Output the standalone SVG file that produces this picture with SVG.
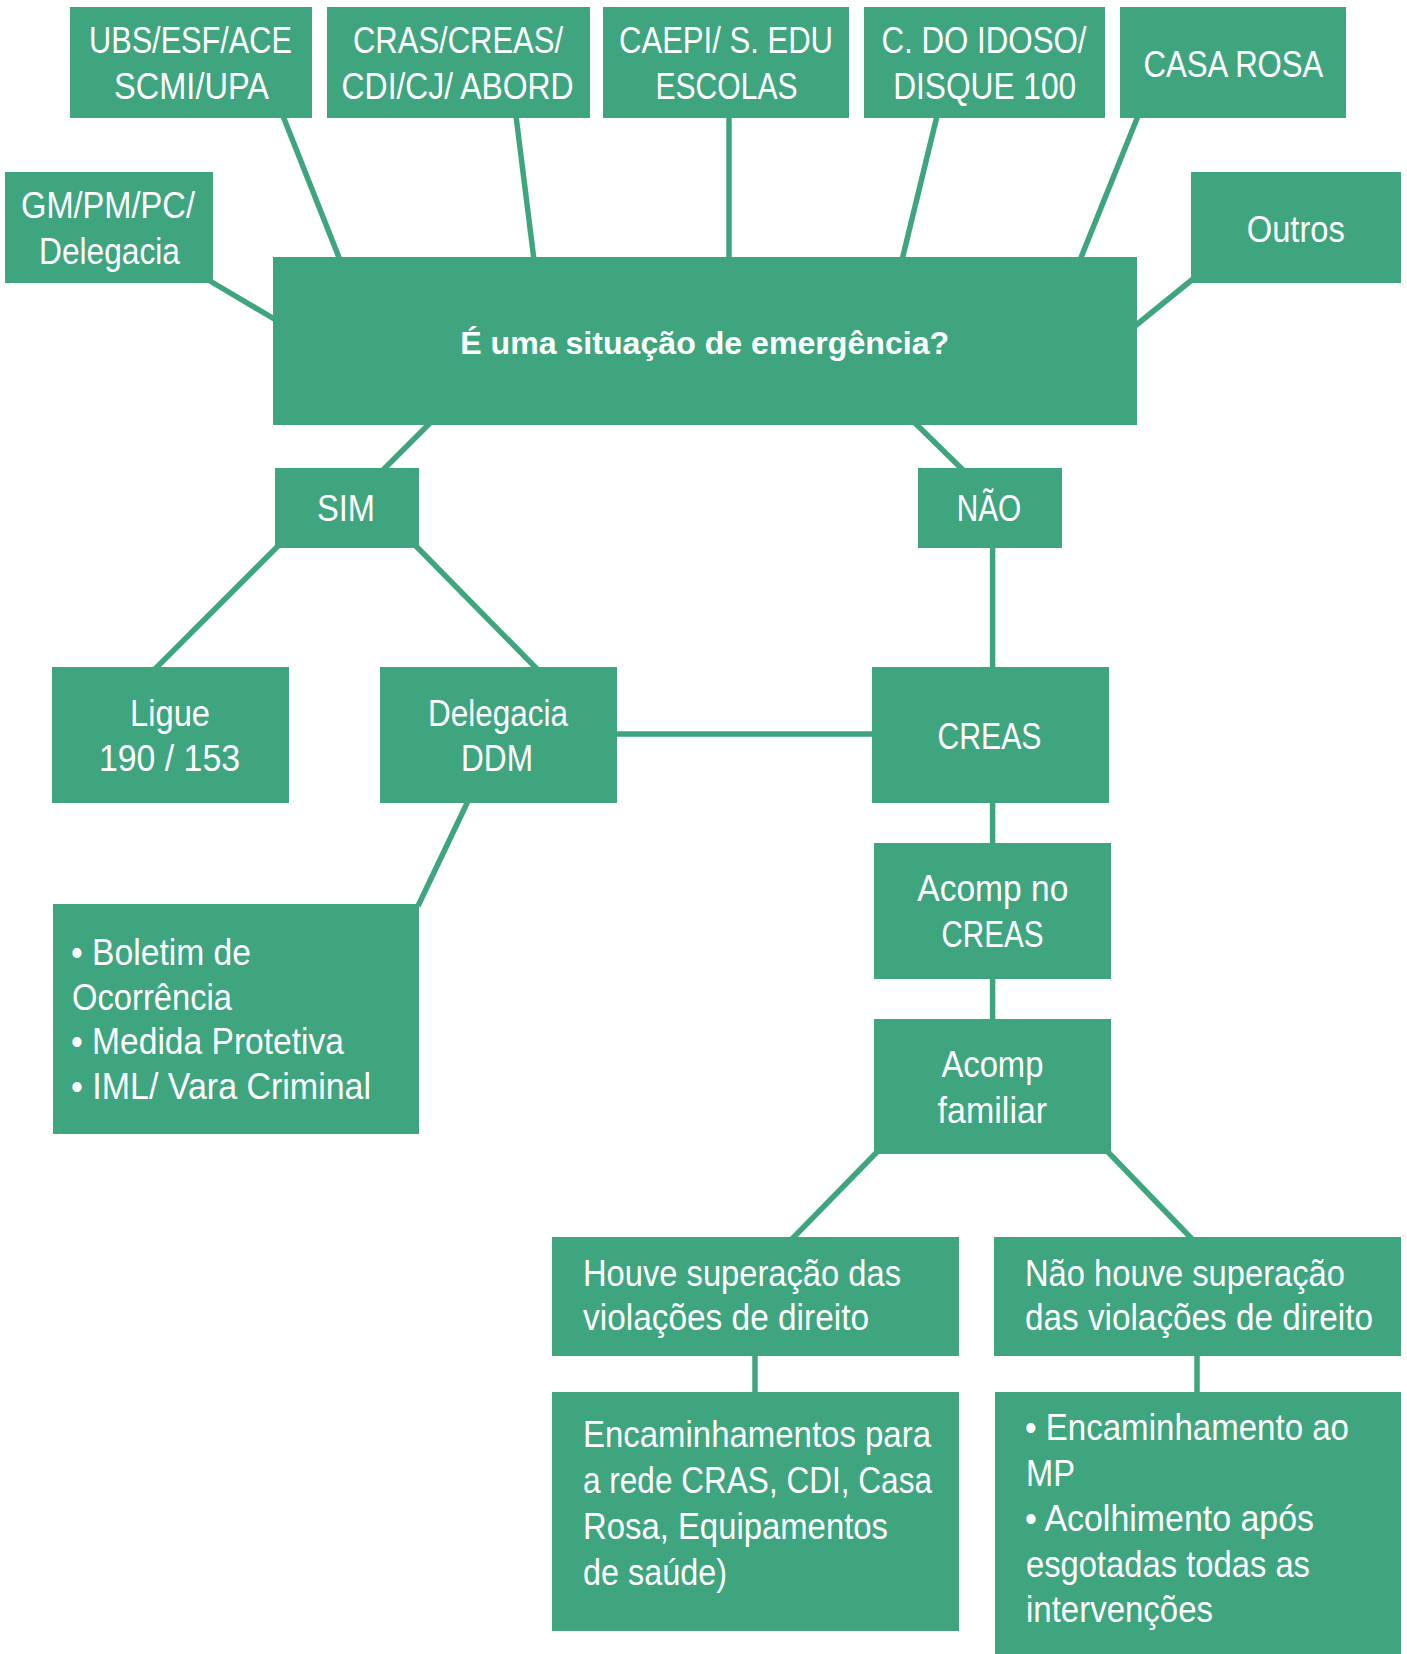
<svg xmlns="http://www.w3.org/2000/svg" width="1407" height="1654" viewBox="0 0 1407 1654">
<style>
.b{fill:#3fa57f}
.c{stroke:#3fa57f;stroke-width:5.5;fill:none}
text{font-family:"Liberation Sans",Arial,sans-serif;font-size:37px;fill:#fff}
.m{text-anchor:middle}
.bold{font-weight:bold;font-size:31px}
</style>
<rect width="1407" height="1654" fill="#fff"/>
<g id="connectors" class="c">
<line x1="283" y1="116" x2="340" y2="260"/>
<line x1="516" y1="116" x2="534" y2="260"/>
<line x1="729" y1="116" x2="729" y2="260"/>
<line x1="937" y1="116" x2="902" y2="260"/>
<line x1="1138" y1="116" x2="1080" y2="260"/>
<line x1="210" y1="281" x2="276" y2="320"/>
<line x1="1193" y1="279" x2="1135" y2="326"/>
<line x1="430" y1="423" x2="383" y2="470"/>
<line x1="915" y1="423" x2="963" y2="470"/>
<line x1="279" y1="545" x2="155" y2="669"/>
<line x1="415" y1="545" x2="537" y2="669"/>
<line x1="468" y1="801" x2="418" y2="906"/>
<line x1="615" y1="734" x2="874" y2="734"/>
<line x1="992.6" y1="546" x2="992.6" y2="669"/>
<line x1="992.6" y1="801" x2="992.6" y2="845"/>
<line x1="992.6" y1="977" x2="992.6" y2="1021"/>
<line x1="877" y1="1152" x2="792" y2="1239"/>
<line x1="1108" y1="1152" x2="1192" y2="1239"/>
<line x1="755" y1="1353" x2="755" y2="1394"/>
<line x1="1197" y1="1353" x2="1197" y2="1394"/>
</g>
<g id="n-ubs"><rect class="b" x="70" y="7" width="242" height="111"/>
<text class="m" x="190.5" y="53" textLength="203" lengthAdjust="spacingAndGlyphs">UBS/ESF/ACE</text>
<text class="m" x="191.5" y="99" textLength="155" lengthAdjust="spacingAndGlyphs">SCMI/UPA</text></g>
<g id="n-cras"><rect class="b" x="327" y="7" width="263" height="111"/>
<text class="m" x="458" y="53" textLength="210" lengthAdjust="spacingAndGlyphs">CRAS/CREAS/</text>
<text class="m" x="457.6" y="99" textLength="232" lengthAdjust="spacingAndGlyphs">CDI/CJ/ ABORD</text></g>
<g id="n-caepi"><rect class="b" x="603" y="7" width="246" height="111"/>
<text class="m" x="726" y="53" textLength="214" lengthAdjust="spacingAndGlyphs">CAEPI/ S. EDU</text>
<text class="m" x="726.5" y="99" textLength="142" lengthAdjust="spacingAndGlyphs">ESCOLAS</text></g>
<g id="n-idoso"><rect class="b" x="864" y="7" width="241" height="111"/>
<text class="m" x="984" y="53" textLength="205" lengthAdjust="spacingAndGlyphs">C. DO IDOSO/</text>
<text class="m" x="984.7" y="99" textLength="183" lengthAdjust="spacingAndGlyphs">DISQUE 100</text></g>
<g id="n-casarosa"><rect class="b" x="1120" y="7" width="226" height="111"/>
<text class="m" x="1233.4" y="77" textLength="180" lengthAdjust="spacingAndGlyphs">CASA ROSA</text></g>
<g id="n-gm"><rect class="b" x="5" y="172" width="208" height="111"/>
<text class="m" x="108" y="218" textLength="174" lengthAdjust="spacingAndGlyphs">GM/PM/PC/</text>
<text class="m" x="109.5" y="264" textLength="141" lengthAdjust="spacingAndGlyphs">Delegacia</text></g>
<g id="n-outros"><rect class="b" x="1191" y="172" width="210" height="111"/>
<text class="m" x="1295.8" y="242" textLength="98" lengthAdjust="spacingAndGlyphs">Outros</text></g>
<g id="n-main"><rect class="b" x="273" y="257" width="864" height="168"/>
<text class="m bold" x="704.7" y="354" textLength="489" lengthAdjust="spacingAndGlyphs">É uma situação de emergência?</text></g>
<g id="n-sim"><rect class="b" x="275" y="468" width="144" height="80"/>
<text class="m" x="346" y="521" textLength="58" lengthAdjust="spacingAndGlyphs">SIM</text></g>
<g id="n-nao"><rect class="b" x="918" y="468" width="144" height="80"/>
<text class="m" x="989" y="521" textLength="64.5" lengthAdjust="spacingAndGlyphs">NÃO</text></g>
<g id="n-ligue"><rect class="b" x="52" y="667" width="237" height="136"/>
<text class="m" x="170" y="726" textLength="80" lengthAdjust="spacingAndGlyphs">Ligue</text>
<text class="m" x="169.5" y="771" textLength="141" lengthAdjust="spacingAndGlyphs">190 / 153</text></g>
<g id="n-delegacia"><rect class="b" x="380" y="667" width="237" height="136"/>
<text class="m" x="498" y="726" textLength="140" lengthAdjust="spacingAndGlyphs">Delegacia</text>
<text class="m" x="497" y="771" textLength="72" lengthAdjust="spacingAndGlyphs">DDM</text></g>
<g id="n-creas"><rect class="b" x="872" y="667" width="237" height="136"/>
<text class="m" x="989.5" y="749" textLength="104" lengthAdjust="spacingAndGlyphs">CREAS</text></g>
<g id="n-boletim"><rect class="b" x="53" y="904" width="366" height="230"/>
<text x="71" y="965" textLength="180" lengthAdjust="spacingAndGlyphs">• Boletim de</text>
<text x="72" y="1010" textLength="160" lengthAdjust="spacingAndGlyphs">Ocorrência</text>
<text x="71" y="1054" textLength="273" lengthAdjust="spacingAndGlyphs">• Medida Protetiva</text>
<text x="71" y="1099" textLength="300" lengthAdjust="spacingAndGlyphs">• IML/ Vara Criminal</text></g>
<g id="n-acompcreas"><rect class="b" x="874" y="843" width="237" height="136"/>
<text class="m" x="992.8" y="901" textLength="151" lengthAdjust="spacingAndGlyphs">Acomp no</text>
<text class="m" x="992.4" y="947" textLength="102" lengthAdjust="spacingAndGlyphs">CREAS</text></g>
<g id="n-acompfam"><rect class="b" x="874" y="1019" width="237" height="135"/>
<text class="m" x="992.4" y="1077" textLength="102" lengthAdjust="spacingAndGlyphs">Acomp</text>
<text class="m" x="992.4" y="1123" textLength="109.6" lengthAdjust="spacingAndGlyphs">familiar</text></g>
<g id="n-houve"><rect class="b" x="552" y="1237" width="407" height="119"/>
<text x="583" y="1286" textLength="318" lengthAdjust="spacingAndGlyphs">Houve superação das</text>
<text x="583" y="1330" textLength="286" lengthAdjust="spacingAndGlyphs">violações de direito</text></g>
<g id="n-naohouve"><rect class="b" x="994" y="1237" width="407" height="119"/>
<text x="1025" y="1286" textLength="320" lengthAdjust="spacingAndGlyphs">Não houve superação</text>
<text transform="translate(1025 1330) scale(0.9 1)">das violações de direito</text></g>
<g id="n-encam"><rect class="b" x="552" y="1392" width="407" height="239"/>
<text x="583" y="1447" textLength="348" lengthAdjust="spacingAndGlyphs">Encaminhamentos para</text>
<text x="583" y="1493" textLength="349" lengthAdjust="spacingAndGlyphs">a rede CRAS, CDI, Casa</text>
<text x="583" y="1539" textLength="305" lengthAdjust="spacingAndGlyphs">Rosa, Equipamentos</text>
<text x="583" y="1585" textLength="144" lengthAdjust="spacingAndGlyphs">de saúde)</text></g>
<g id="n-mp"><rect class="b" x="995" y="1392" width="406" height="262"/>
<text x="1025" y="1440" textLength="324" lengthAdjust="spacingAndGlyphs">• Encaminhamento ao</text>
<text x="1026" y="1486" textLength="49" lengthAdjust="spacingAndGlyphs">MP</text>
<text x="1025" y="1531" textLength="289" lengthAdjust="spacingAndGlyphs">• Acolhimento após</text>
<text x="1026" y="1577" textLength="284" lengthAdjust="spacingAndGlyphs">esgotadas todas as</text>
<text x="1026" y="1622" textLength="187" lengthAdjust="spacingAndGlyphs">intervenções</text></g>
</svg>
